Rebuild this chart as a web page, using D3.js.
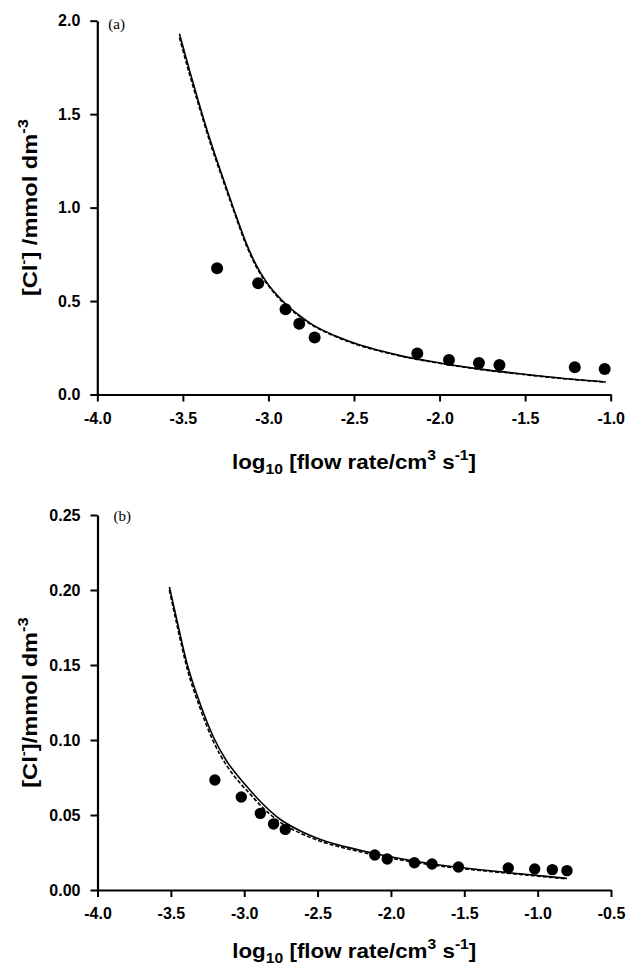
<!DOCTYPE html>
<html>
<head>
<meta charset="utf-8">
<script src="https://cdn.jsdelivr.net/npm/d3@7"></script>
<style>
  body { margin: 0; background: #fff; }
</style>
</head>
<body>
<script>
// ---- panel (a) ----
const aTicksX = [-4.0, -3.5, -3.0, -2.5, -2.0, -1.5, -1.0];
const aTicksY = [0.0, 0.5, 1.0, 1.5, 2.0];
const aPointX = [-3.30, -3.06, -2.90, -2.82, -2.73, -2.13, -1.945, -1.77, -1.65, -1.21, -1.035];
const aPointY = [0.675, 0.595, 0.456, 0.378, 0.305, 0.220, 0.185, 0.168, 0.158, 0.146, 0.136];
const aSolidX = [-3.52, -3.46, -3.40, -3.34, -3.27, -3.20, -3.13, -3.07, -3.01, -2.95, -2.89, -2.82, -2.75, -2.68, -2.60, -2.47, -2.35, -2.23, -2.00, -1.77, -1.53, -1.30, -1.03];
const aSolidY = [1.93, 1.73, 1.54, 1.36, 1.17, 0.985, 0.81, 0.69, 0.60, 0.532, 0.476, 0.423, 0.378, 0.343, 0.310, 0.266, 0.235, 0.208, 0.169, 0.137, 0.111, 0.088, 0.067];
const aDashY  = [1.91, 1.71, 1.525, 1.345, 1.158, 0.975, 0.80, 0.682, 0.594, 0.526, 0.471, 0.419, 0.374, 0.340, 0.307, 0.263, 0.232, 0.206, 0.167, 0.135, 0.109, 0.087, 0.066];

// ---- panel (b) ----
const bTicksX = [-4.0, -3.5, -3.0, -2.5, -2.0, -1.5, -1.0, -0.5];
const bTicksY = [0.00, 0.05, 0.10, 0.15, 0.20, 0.25];
const bPointX = [-3.20, -3.02, -2.89, -2.80, -2.72, -2.11, -2.025, -1.84, -1.72, -1.54, -1.20, -1.02, -0.90, -0.80];
const bPointY = [0.0733, 0.0620, 0.0511, 0.0440, 0.0404, 0.0233, 0.0207, 0.0182, 0.0173, 0.0153, 0.0147, 0.0140, 0.0136, 0.0129];
const bSolidX = [-3.51, -3.45, -3.39, -3.30, -3.21, -3.12, -3.03, -2.96, -2.89, -2.76, -2.62, -2.48, -2.21, -1.94, -1.67, -1.39, -1.12, -0.80];
const bSolidY = [0.202, 0.176, 0.151, 0.124, 0.102, 0.086, 0.0745, 0.0665, 0.059, 0.0475, 0.0395, 0.0337, 0.0265, 0.0210, 0.0167, 0.0135, 0.0108, 0.0078];
const bDashY  = [0.200, 0.173, 0.148, 0.121, 0.099, 0.083, 0.0715, 0.064, 0.0565, 0.0455, 0.038, 0.0325, 0.0255, 0.0202, 0.0161, 0.0130, 0.0104, 0.0074];

const sans = "'Liberation Sans', Arial, Helvetica, sans-serif";

const svg = d3.select("body").append("svg")
    .attr("width", 626)
    .attr("height", 968);

function drawPanel(o) {
  const x = d3.scaleLinear().domain([o.ticksX[0], o.ticksX[o.ticksX.length - 1]]).range([o.left, o.right]);
  const y = d3.scaleLinear().domain([o.ticksY[0], o.ticksY[o.ticksY.length - 1]]).range([o.bottom, o.top]);

  const g = svg.append("g");

  const gx = g.append("g")
      .attr("transform", `translate(0,${o.bottom})`)
      .call(d3.axisBottom(x).tickValues(o.ticksX).tickFormat(d => d.toFixed(1))
        .tickSize(7).tickSizeOuter(0).tickPadding(11));
  const gy = g.append("g")
      .attr("transform", `translate(${o.left},0)`)
      .call(d3.axisLeft(y).tickValues(o.ticksY).tickFormat(d => d.toFixed(o.dec))
        .tickSize(7).tickSizeOuter(0).tickPadding(10));

  [gx, gy].forEach(a => {
    a.attr("font-family", sans).attr("font-size", 16);
    a.select(".domain").attr("stroke-width", 2.2);
    a.selectAll(".tick line").attr("stroke-width", 2);
    a.selectAll(".tick text")
      .attr("font-weight", "bold")
      .attr("fill", "#000");
  });

  const line = d3.line()
      .x((d, i) => x(o.curveX[i]))
      .y(d => y(d))
      .curve(d3.curveMonotoneX);

  g.append("path")
      .attr("d", line(o.dashY))
      .attr("fill", "none")
      .attr("stroke", "#000")
      .attr("stroke-width", 1.6)
      .attr("stroke-dasharray", "4,2");

  g.append("path")
      .attr("d", line(o.solidY))
      .attr("fill", "none")
      .attr("stroke", "#000")
      .attr("stroke-width", 1.6);

  g.selectAll("circle.pt")
    .data(o.pointX)
    .join("circle")
      .attr("class", "pt")
      .attr("cx", d => x(d))
      .attr("cy", (d, i) => y(o.pointY[i]))
      .attr("r", o.r)
      .attr("fill", "#000");

  // panel letter
  g.append("text")
      .attr("x", o.left + o.letterDx)
      .attr("y", o.top + o.letterDy)
      .attr("font-family", "'Liberation Serif', 'Times New Roman', serif")
      .attr("font-size", 15)
      .text(o.letter);

  // x title
  const xt = g.append("text")
      .attr("transform", `translate(${(o.left + o.right) / 2},${o.bottom + o.xTitleDy}) scale(1.12,1)`)
      .attr("text-anchor", "middle")
      .attr("font-family", sans)
      .attr("font-size", 20)
      .attr("font-weight", "bold");
  xt.append("tspan").text("log");
  xt.append("tspan").attr("font-size", 14).attr("dy", 5).text("10");
  xt.append("tspan").attr("dy", -5).text(" [flow rate/cm");
  xt.append("tspan").attr("font-size", 14).attr("dy", -9).text("3");
  xt.append("tspan").attr("dy", 9).text(" s");
  xt.append("tspan").attr("font-size", 14).attr("dy", -9).text("-1");
  xt.append("tspan").attr("dy", 9).text("]");

  // y title
  const yt = g.append("text")
      .attr("transform", `translate(37,${(o.top + o.bottom) / 2}) rotate(-90) scale(1.18,1)`)
      .attr("text-anchor", "middle")
      .attr("font-family", sans)
      .attr("font-size", 20)
      .attr("font-weight", "bold");
  yt.append("tspan").text("[Cl");
  yt.append("tspan").attr("font-size", 13).attr("dy", -9).text("-");
  yt.append("tspan").attr("dy", 9).text("]" + o.ySep + "/mmol dm");
  yt.append("tspan").attr("font-size", 14).attr("dy", -9).text("-3");
}

drawPanel({
  ticksX: aTicksX, ticksY: aTicksY, dec: 1,
  left: 97.3, right: 610.7, top: 20.7, bottom: 394.5,
  pointX: aPointX, pointY: aPointY, curveX: aSolidX, solidY: aSolidY, dashY: aDashY,
  r: 6, letter: "(a)", letterDx: 11, letterDy: 8, xTitleDy: 74, ySep: " "
});

drawPanel({
  ticksX: bTicksX, ticksY: bTicksY, dec: 2,
  left: 97.5, right: 611, top: 515, bottom: 890,
  pointX: bPointX, pointY: bPointY, curveX: bSolidX, solidY: bSolidY, dashY: bDashY,
  r: 5.7, letter: "(b)", letterDx: 16, letterDy: 6, xTitleDy: 68, ySep: ""
});
</script>
</body>
</html>
